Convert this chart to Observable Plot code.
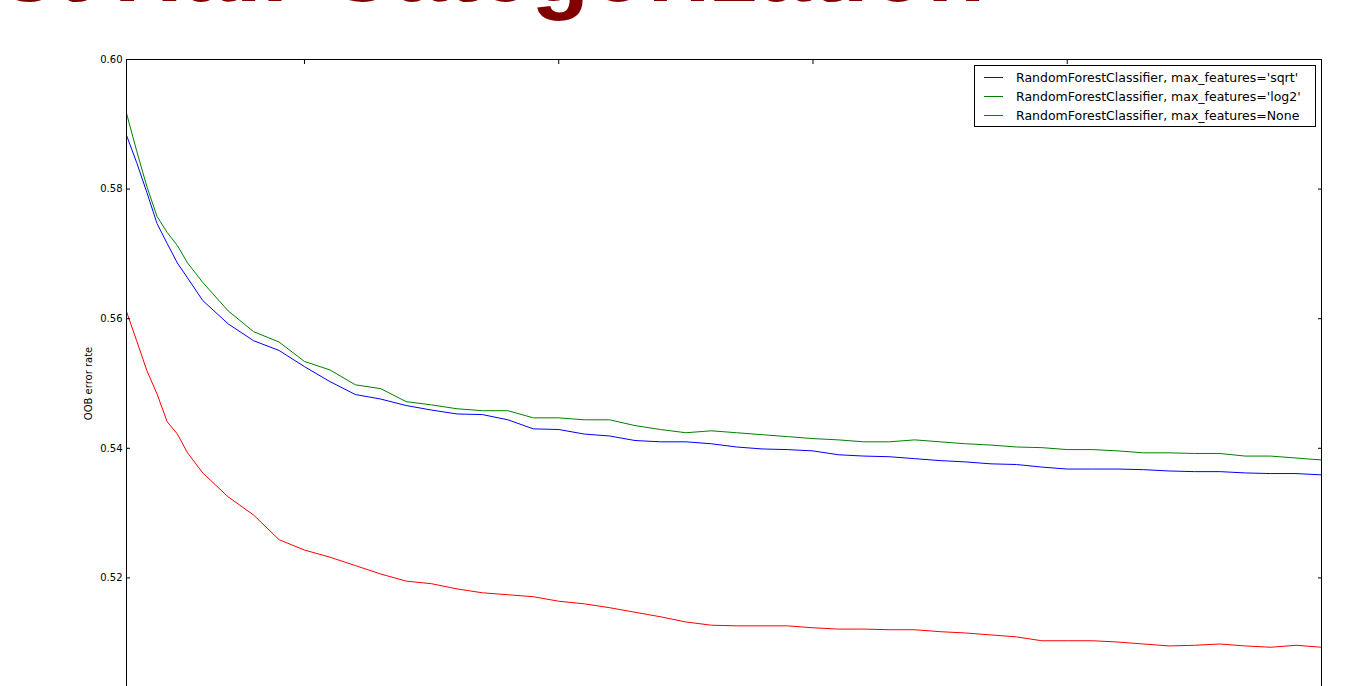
<!DOCTYPE html>
<html>
<head>
<meta charset="utf-8">
<script src="https://cdn.jsdelivr.net/npm/d3@7"></script>
<script src="https://cdn.jsdelivr.net/npm/@observablehq/plot@0.6"></script>
<style>
  html, body { margin: 0; padding: 0; background: #fff; overflow: hidden; }
  #wrap { position: relative; width: 1352px; height: 686px; overflow: hidden; background: #fff; }
  #title {
    position: absolute; right: 367px; top: -79px;
    font: bold 95px "Liberation Sans", Arial, sans-serif; line-height: 95px;
    color: #800000; white-space: nowrap;
  }
  #chart { position: absolute; left: 0; top: 0; }
  #legend {
    position: absolute; left: 974px; top: 65px; width: 340px; height: 60px;
    border: 1px solid #000; background: #fff; box-sizing: content-box;
    font: 12.5px "DejaVu Sans", sans-serif; color: #000;
  }
  .row { position: absolute; left: 0; width: 340px; height: 19px; line-height: 19px; white-space: nowrap; }
  .swatch { position: absolute; left: 9px; top: 9px; width: 19px; height: 1px; }
  .label { position: absolute; left: 41px; top: 0; }
</style>
</head>
<body>
<div id="wrap">
  <div id="chart"></div>
  <div id="title">Random Forest Hair Categorization</div>
  <div id="legend"></div>
</div>
<script>
// Number of trees in the forest at each evaluation step
const nEstimators = [15, 17, 19, 21, 23, 25, 27, 30, 35, 40, 45, 50, 55, 60, 65, 70, 75, 80, 85, 90,
  95, 100, 105, 110, 115, 120, 125, 130, 135, 140, 145, 150, 155, 160, 165, 170, 175, 180, 185, 190,
  195, 200, 205, 210, 215, 220, 225, 230, 235, 240, 245, 250];

// Out-of-bag error rate for each max_features setting
const errSqrt = [0.5883, 0.5841, 0.5795, 0.5747, 0.5716, 0.5686, 0.5663, 0.5628, 0.5592, 0.5566,
  0.5551, 0.5526, 0.5503, 0.5483, 0.5476, 0.5466, 0.5459, 0.5453, 0.5452, 0.5444,
  0.5430, 0.5429, 0.5422, 0.5419, 0.5412, 0.5410, 0.5410, 0.5407, 0.5402, 0.5399,
  0.5398, 0.5396, 0.5390, 0.5388, 0.5387, 0.5384, 0.5381, 0.5379, 0.5376, 0.5375,
  0.5371, 0.5368, 0.5368, 0.5368, 0.5367, 0.5365, 0.5364, 0.5364, 0.5362, 0.5361, 0.5361, 0.5359];

const errLog2 = [0.5917, 0.5859, 0.5804, 0.5758, 0.5733, 0.5713, 0.5686, 0.5656, 0.5612, 0.5580,
  0.5564, 0.5534, 0.5521, 0.5498, 0.5492, 0.5472, 0.5467, 0.5461, 0.5458, 0.5458,
  0.5447, 0.5447, 0.5444, 0.5444, 0.5435, 0.5429, 0.5424, 0.5427, 0.5424, 0.5421,
  0.5418, 0.5415, 0.5413, 0.5410, 0.5410, 0.5413, 0.5410, 0.5407, 0.5405, 0.5402,
  0.5401, 0.5398, 0.5398, 0.5396, 0.5393, 0.5393, 0.5392, 0.5392, 0.5388, 0.5388, 0.5385, 0.5382];

const errNone = [0.5611, 0.5566, 0.5520, 0.5484, 0.5441, 0.5422, 0.5393, 0.5362, 0.5325, 0.5297,
  0.5259, 0.5243, 0.5232, 0.5219, 0.5206, 0.5195, 0.5191, 0.5183, 0.5177, 0.5174,
  0.5171, 0.5164, 0.5160, 0.5154, 0.5147, 0.5140, 0.5132, 0.5127, 0.5126, 0.5126,
  0.5126, 0.5123, 0.5121, 0.5121, 0.5120, 0.5120, 0.5117, 0.5115, 0.5112, 0.5109,
  0.5103, 0.5103, 0.5103, 0.5101, 0.5098, 0.5095, 0.5096, 0.5098, 0.5095, 0.5093, 0.5096, 0.5093];

const seriesNames = [
  "RandomForestClassifier, max_features='sqrt'",
  "RandomForestClassifier, max_features='log2'",
  "RandomForestClassifier, max_features=None"
];
const seriesColors = ["#0000ff", "#008000", "#ff0000"];

const yTicks = [0.52, 0.54, 0.56, 0.58, 0.60];
const xTicks = [50, 100, 150, 200, 250];

// Long-format table for the line mark
const rows = [];
[errSqrt, errLog2, errNone].forEach((vals, i) => {
  vals.forEach((v, j) => rows.push({n: nEstimators[j], err: v, series: seriesNames[i]}));
});

const blank = () => "";

const chart = Plot.plot({
  width: 1352,
  height: 757,
  marginTop: 59,
  marginLeft: 126,
  marginRight: 31,
  marginBottom: 50,
  style: {fontFamily: "DejaVu Sans, sans-serif", fontSize: "10px", color: "#000", background: "#fff"},
  x: {domain: [15, 250]},
  y: {domain: [0.50, 0.60]},
  color: {domain: seriesNames, range: seriesColors},
  marks: [
    Plot.line(rows, {x: "n", y: "err", z: "series", stroke: "series", strokeWidth: 1}),
    Plot.frame({stroke: "#000", strokeWidth: 1}),
    // inward ticks on all four sides; labels only on the left
    Plot.axisY(yTicks, {
      anchor: "left", tickSize: -4, tickPadding: 8, tickFormat: d3.format(".2f"),
      label: "OOB error rate", labelAnchor: "center", labelOffset: 42, labelArrow: "none"
    }),
    Plot.axisY(yTicks, {anchor: "right", tickSize: -4, tickFormat: blank, label: null}),
    Plot.axisX(xTicks, {anchor: "top", tickSize: -4, tickFormat: blank, label: null}),
    Plot.axisX(xTicks, {anchor: "bottom", tickSize: -4, tickFormat: blank, label: null})
  ]
});
document.getElementById("chart").appendChild(chart);

// Legend box in the upper-right corner of the axes
const legend = document.getElementById("legend");
seriesNames.forEach((name, i) => {
  const row = document.createElement("div");
  row.className = "row";
  row.style.top = (2 + i * 19) + "px";
  const sw = document.createElement("div");
  sw.className = "swatch";
  sw.style.background = seriesColors[i];
  const lab = document.createElement("div");
  lab.className = "label";
  lab.textContent = name;
  row.appendChild(sw);
  row.appendChild(lab);
  legend.appendChild(row);
});
</script>
</body>
</html>
